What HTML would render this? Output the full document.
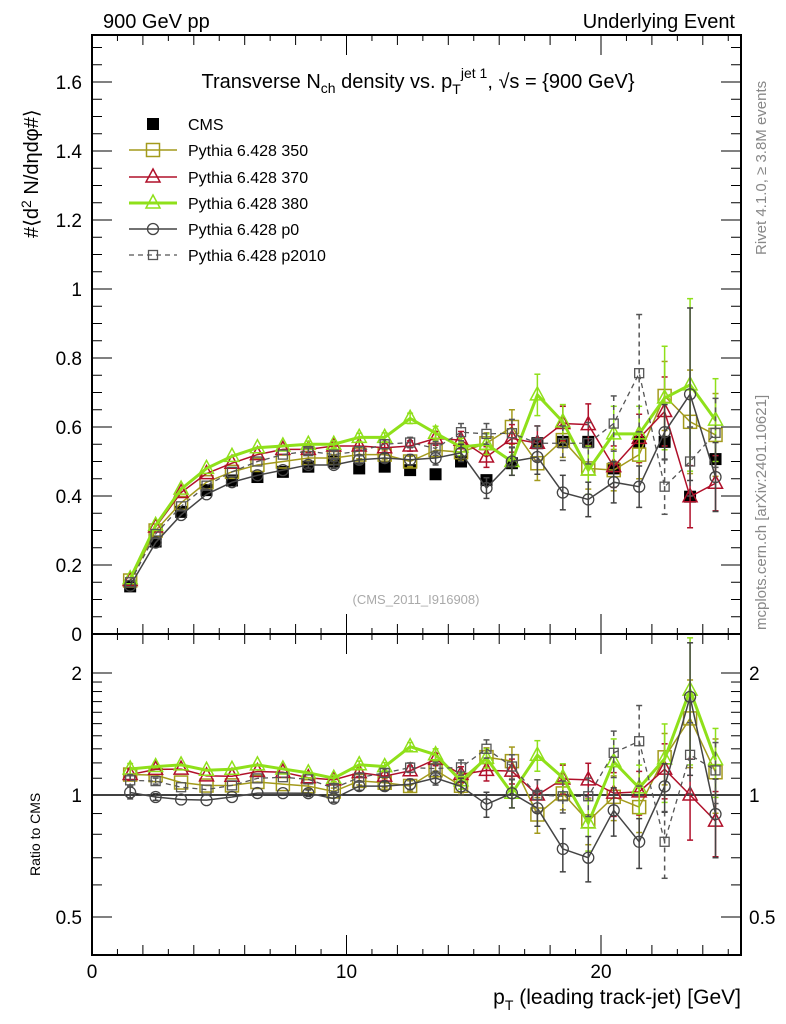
<!DOCTYPE html>
<html><head><meta charset="utf-8"><style>
body{margin:0;background:#fff;}
svg{display:block;font-family:"Liberation Sans",sans-serif;}
</style></head><body>
<svg id="c" width="786" height="1024" viewBox="0 0 786 1024">
<text x="103" y="28" font-size="20">900 GeV pp</text>
<text x="735" y="28" font-size="20" text-anchor="end">Underlying Event</text>
<text x="418" y="88" font-size="20" text-anchor="middle">Transverse N<tspan font-size="14" dy="5">ch</tspan><tspan dy="-5"> density vs. p</tspan><tspan font-size="14" dy="6">T</tspan><tspan font-size="14" dy="-16">jet 1</tspan><tspan dy="10">, √s = {900 GeV}</tspan></text>
<text transform="translate(38,238) rotate(-90)" font-size="20">#⟨d<tspan font-size="14" dy="-7">2</tspan><tspan dy="7"> N/dηdφ#⟩</tspan></text>
<text transform="translate(40,876) rotate(-90)" font-size="14">Ratio to CMS</text>
<text x="741" y="1004" font-size="21" text-anchor="end">p<tspan font-size="14" dy="6">T</tspan><tspan dy="-6"> (leading track-jet) [GeV]</tspan></text>
<text transform="translate(766,255) rotate(-90)" font-size="15" fill="#888">Rivet 4.1.0, ≥ 3.8M events</text>
<text transform="translate(766,630) rotate(-90)" font-size="15" fill="#888">mcplots.cern.ch [arXiv:2401.10621]</text>
<text x="416" y="604" font-size="13" fill="#aaa" text-anchor="middle">(CMS_2011_I916908)</text>
<g id="g"></g>
</svg>
<script>
const xs=[1.5,2.5,3.5,4.5,5.5,6.5,7.5,8.5,9.5,10.5,11.5,12.5,13.5,14.5,15.5,16.5,17.5,18.5,19.5,20.5,21.5,22.5,23.5,24.5];
const cms=[0.138,0.268,0.354,0.417,0.445,0.455,0.47,0.485,0.5,0.48,0.485,0.475,0.463,0.5,0.446,0.495,0.553,0.557,0.557,0.48,0.557,0.557,0.398,0.507];
const p350=[0.155,0.30,0.38,0.44,0.47,0.49,0.50,0.51,0.51,0.52,0.52,0.50,0.533,0.527,0.553,0.60,0.495,0.562,0.48,0.475,0.52,0.69,0.615,0.577];
const e350=[0.005,0.005,0.005,0.006,0.006,0.007,0.008,0.009,0.01,0.012,0.013,0.015,0.02,0.025,0.03,0.05,0.05,0.05,0.06,0.06,0.07,0.1,0.15,0.12];
const p370=[0.155,0.31,0.41,0.465,0.495,0.52,0.535,0.535,0.545,0.545,0.54,0.545,0.567,0.562,0.513,0.567,0.553,0.61,0.607,0.485,0.567,0.645,0.398,0.437];
const e370=[0.005,0.005,0.005,0.006,0.006,0.007,0.008,0.009,0.01,0.012,0.013,0.015,0.02,0.025,0.03,0.04,0.05,0.05,0.06,0.06,0.07,0.1,0.09,0.08];
const p380=[0.16,0.315,0.42,0.48,0.515,0.54,0.545,0.55,0.55,0.57,0.57,0.625,0.582,0.542,0.55,0.5,0.693,0.615,0.475,0.58,0.58,0.684,0.722,0.62];
const e380=[0.005,0.005,0.005,0.006,0.006,0.007,0.008,0.009,0.01,0.012,0.013,0.015,0.02,0.025,0.03,0.04,0.06,0.05,0.07,0.08,0.08,0.15,0.25,0.12];
const pp0=[0.14,0.265,0.345,0.405,0.44,0.46,0.475,0.49,0.49,0.505,0.51,0.505,0.51,0.525,0.423,0.5,0.513,0.41,0.39,0.44,0.427,0.585,0.695,0.455];
const ep0=[0.005,0.005,0.005,0.006,0.006,0.007,0.008,0.009,0.01,0.012,0.013,0.015,0.02,0.025,0.03,0.04,0.05,0.05,0.05,0.06,0.06,0.08,0.25,0.1];
const p2010=[0.15,0.29,0.37,0.43,0.47,0.5,0.52,0.53,0.52,0.53,0.55,0.555,0.538,0.585,0.58,0.582,0.553,0.553,0.553,0.61,0.756,0.427,0.5,0.583];
const e2010=[0.005,0.005,0.005,0.006,0.006,0.007,0.008,0.009,0.01,0.012,0.013,0.015,0.02,0.025,0.03,0.04,0.05,0.05,0.06,0.08,0.17,0.08,0.1,0.1];
const mainTicks=["0","0.2","0.4","0.6","0.8","1","1.2","1.4","1.6"];
const xTicks=["0","10","20"];
const ratioTicks=["0.5","1","2"];

const NS="http://www.w3.org/2000/svg",G=document.getElementById('g');
const L=92,R=741,T=35,M=634,B=955;
const X=v=>L+v*25.45, Y=v=>M-v*345, YR=r=>795-122*Math.log2(r);
function el(t,a,p){const e=document.createElementNS(NS,t);for(const k in a)e.setAttribute(k,a[k]);(p||G).appendChild(e);return e;}
let f=el('rect',{x:L,y:T,width:R-L,height:B-T,fill:'none',stroke:'#000','stroke-width':2});

let dv=el('line',{x1:L,x2:R,y1:M,y2:M,stroke:'#000','stroke-width':2});

let one=el('line',{x1:L,x2:R,y1:YR(1),y2:YR(1),stroke:'#000','stroke-width':1.5});

for(let v=0;v<=1.7001;v+=0.05){const mj=Math.abs(v*5-Math.round(v*5))<1e-6,len=mj?20:10,y=Y(v);
 el('line',{x1:L,x2:L+len,y1:y,y2:y,stroke:'#000'});el('line',{x1:R,x2:R-len,y1:y,y2:y,stroke:'#000'});}
mainTicks.forEach(s=>{const t=el('text',{x:82,y:Y(+s)+7,'font-size':19,'text-anchor':'end'});t.textContent=s;
 });
for(let v=0;v<=25;v++){const len=v%10==0?20:(v%2==0?10:6),x=X(v);
 [[B,B-len],[M,M-len],[M,M+len],[T,T+len]].forEach(p=>el('line',{x1:x,x2:x,y1:p[0],y2:p[1],stroke:'#000'}));}
xTicks.forEach(s=>{const t=el('text',{x:X(+s),y:978,'font-size':19,'text-anchor':'middle'});t.textContent=s;
 });
[0.5,0.6,0.7,0.8,0.9,1,1.1,1.2,1.3,1.4,1.5,1.6,1.7,1.8,1.9,2].forEach(v=>{const mj=[0.5,1,2].includes(v),len=mj?20:10,y=YR(v);
 el('line',{x1:L,x2:L+len,y1:y,y2:y,stroke:'#000'});el('line',{x1:R,x2:R-len,y1:y,y2:y,stroke:'#000'});});
ratioTicks.forEach(s=>{const y=YR(+s)+7;
 const a=el('text',{x:82,y:y,'font-size':19,'text-anchor':'end'});a.textContent=s;
 
 const b=el('text',{x:749,y:y,'font-size':19});b.textContent=s;
 });
function marker(type,x,y,col,p){
 if(type=='fsq')return el('rect',{x:x-6,y:y-6,width:12,height:12,fill:'#000'},p);
 if(type=='sq')return el('rect',{x:x-6.5,y:y-6.5,width:13,height:13,fill:'none',stroke:col,'stroke-width':1.5},p);
 if(type=='ssq')return el('rect',{x:x-4.5,y:y-4.5,width:9,height:9,fill:'none',stroke:col,'stroke-width':1.3},p);
 if(type=='tri')return el('polygon',{points:`${x},${y-8} ${x-7},${y+5} ${x+7},${y+5}`,fill:'none',stroke:col,'stroke-width':1.5},p);
 return el('circle',{cx:x,cy:y,r:5.5,fill:'none',stroke:col,'stroke-width':1.3},p);}
const series=[
 {n:'pythia-350',v:p350,e:e350,c:'#a39a1c',m:'sq',w:1.5,d:''},
 {n:'pythia-370',v:p370,e:e370,c:'#b0102a',m:'tri',w:1.5,d:''},
 {n:'pythia-380',v:p380,e:e380,c:'#8fe01a',m:'tri',w:3,d:''},
 {n:'pythia-p0',v:pp0,e:ep0,c:'#444',m:'circ',w:1.5,d:''},
 {n:'pythia-p2010',v:p2010,e:e2010,c:'#555',m:'ssq',w:1.3,d:'5,4'}];
function draw(s,yf,vals,errs,tag){
 const g=el('g',{});
 el('polyline',{points:xs.map((x,i)=>X(x)+','+yf(vals[i])).join(' '),fill:'none',stroke:s.c,'stroke-width':s.w,'stroke-dasharray':s.d},g);
 xs.forEach((x,i)=>{const lo=Math.max(vals[i]-errs[i],0.01),y1=yf(vals[i]+errs[i]),y2=yf(lo),px=X(x);
  if(y2-y1>6){el('line',{x1:px,x2:px,y1:y1,y2:y2,stroke:s.c,'stroke-width':1.5,'stroke-dasharray':s.d},g);
   el('line',{x1:px-3,x2:px+3,y1:y1,y2:y1,stroke:s.c,'stroke-width':1.5},g);el('line',{x1:px-3,x2:px+3,y1:y2,y2:y2,stroke:s.c,'stroke-width':1.5},g);}
  const mk=marker(s.m,px,yf(vals[i]),s.c,g);});}
const gc=el('g',{});
xs.forEach((x,i)=>{const m=marker('fsq',X(x),Y(cms[i]),'#000',gc);});
series.forEach(s=>draw(s,Y,s.v,s.e,'-main'));
series.forEach(s=>draw(s,YR,s.v.map((v,i)=>v/cms[i]),s.e.map((e,i)=>e/cms[i]),'-ratio'));
const lg=el('g',{});
const labels=['CMS','Pythia 6.428 350','Pythia 6.428 370','Pythia 6.428 380','Pythia 6.428 p0','Pythia 6.428 p2010'];
const rowsY=[124,150,177,203,229,255];
labels.forEach((lab,i)=>{const y=rowsY[i];const eg=el('g',{},lg);
 if(i==0)marker('fsq',153,y,'#000',eg);else{const s=series[i-1];
  el('line',{x1:129,x2:177,y1:y,y2:y,stroke:s.c,'stroke-width':s.w,'stroke-dasharray':s.d},eg);
  marker(s.m,153,y,s.c,eg);}
 const t=el('text',{x:188,y:y+6,'font-size':16},eg);t.textContent=lab;});
</script>
</body></html>
